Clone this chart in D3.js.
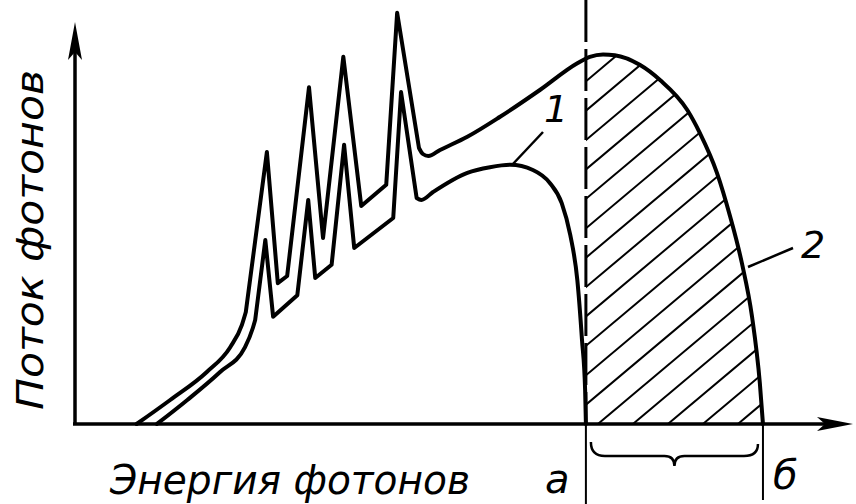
<!DOCTYPE html>
<html>
<head>
<meta charset="utf-8">
<script src="https://cdn.jsdelivr.net/npm/d3@7"></script>
<style>
  body { margin: 0; background: #fff; }
  text { font-family: "DejaVu Sans", sans-serif; font-style: italic; fill: #000; }
</style>
</head>
<body>
<div id="chart"></div>
<script>
// curve 2 (upper): smooth rise, four sharp lines, smooth tail
var curve2Rise  = [[7.9,0],[12.2,6],[16.9,13],[19.9,19.2],[21.4,24.8],[21.9,28]];
var curve2Peaks = [[21.9,28],[24.6,68],[26.0,35.2],[27.2,37],[30.0,84.2],[31.8,46.5],[34.4,91.8],[36.7,54.5],[39.9,59.8],[41.3,102.8],[44.1,69]];
var curve2Tail  = [[44.1,69],[44.6,67.5],[45.3,67],[46.8,68.5],[50.3,71.8],[54.5,76.8],[59.6,83.5],[64.4,90.2],[66.0,91.8],[67.7,92.4],[69.2,92.2],[72.4,89.8],[75.0,86],[78.5,78.5],[80.1,72.8],[82.3,62.8],[84.0,51.8],[85.5,40.2],[86.8,26.8],[87.8,10.2],[88.2,0]];

// curve 1 (lower)
var curve1Rise  = [[10.5,0],[14.4,6],[18.6,13],[21.8,19.2],[22.8,24],[23.1,26]];
var curve1Peaks = [[23.1,26],[24.4,46],[25.4,26.8],[28.5,32.2],[29.9,56],[30.8,36.5],[32.9,39.8],[34.5,69.8],[35.8,44],[40.8,51.5],[41.8,83],[43.8,56.5]];
var curve1Tail  = [[43.8,56.5],[44.4,56],[45.9,58],[50.3,62.8],[53.2,64.2],[55.8,64.8],[58.7,63.5],[60.9,60.2],[62.4,55.2],[63.5,47.2],[64.4,36],[65.0,21],[65.4,8.5],[65.5,0]];

var boundA = 65.5, boundB = 88.2;

var axisLabelX = "Энергия фотонов";
var axisLabelY = "Поток фотонов";
var boundLabels = ["а", "б"];
var curveLabels = ["1", "2"];

var width = 856, height = 504;

var svg = d3.select('#chart')
  .append('svg')
    .attr('width', width)
    .attr('height', height);

var x = d3.scaleLinear().domain([0, 100]).range([75, 855]);
var y = d3.scaleLinear().domain([0, 100]).range([424, 24]);

var smooth = d3.line().x(d => x(d[0])).y(d => y(d[1])).curve(d3.curveMonotoneX);
var sharp = d3.line().x(d => x(d[0])).y(d => y(d[1]));

function joined(rise, peaks, tail) {
  return smooth(rise) + sharp(peaks).replace(/^M/, 'L') + smooth(tail).replace(/^M/, 'L');
}

// hatched region under curve 2 to the right of a
var defs = svg.append('defs');
defs.append('clipPath').attr('id', 'clipArea')
  .append('path')
  .attr('d', d3.area().x(d => x(d[0])).y0(y(0)).y1(d => y(d[1])).curve(d3.curveMonotoneX)(curve2Tail));
defs.append('clipPath').attr('id', 'clipRight')
  .append('rect')
  .attr('x', x(boundA)).attr('y', 0)
  .attr('width', x(boundB) - x(boundA) + 10).attr('height', y(0));

var hatch = svg.append('g').attr('clip-path', 'url(#clipRight)')
  .append('g').attr('clip-path', 'url(#clipArea)');
var step = 35, slope = 0.84, x0 = x(boundA) + 12;
hatch.selectAll('line')
  .data(d3.range(-12, 6))
  .enter()
  .append('line')
  .attr('x1', k => x0 + k * step)
  .attr('y1', y(0))
  .attr('x2', k => x0 + k * step + 500)
  .attr('y2', y(0) - 500 * slope)
  .attr('stroke', '#000')
  .attr('stroke-width', 2);

// curves
svg.append('path')
  .attr('d', joined(curve2Rise, curve2Peaks, curve2Tail))
  .attr('fill', 'none').attr('stroke', '#000').attr('stroke-width', 4)
  .attr('stroke-linejoin', 'round').attr('stroke-linecap', 'round');
svg.append('path')
  .attr('d', joined(curve1Rise, curve1Peaks, curve1Tail))
  .attr('fill', 'none').attr('stroke', '#000').attr('stroke-width', 4)
  .attr('stroke-linejoin', 'round').attr('stroke-linecap', 'round');

// axes
svg.append('line')
  .attr('x1', x(0)).attr('y1', y(0)).attr('x2', x(0)).attr('y2', 40)
  .attr('stroke', '#000').attr('stroke-width', 3.5);
svg.append('line')
  .attr('x1', x(0) - 2).attr('y1', y(0)).attr('x2', 830).attr('y2', y(0))
  .attr('stroke', '#000').attr('stroke-width', 3.5);
svg.append('path')
  .attr('d', 'M' + x(0) + ',22 L' + (x(0) + 7) + ',60 L' + x(0) + ',52 L' + (x(0) - 7) + ',60 Z')
  .attr('fill', '#000');
svg.append('path')
  .attr('d', 'M853,' + y(0) + ' L817,' + (y(0) - 7) + ' L825,' + y(0) + ' L817,' + (y(0) + 7) + ' Z')
  .attr('fill', '#000');

// boundaries a and б
svg.append('line')
  .attr('x1', x(boundA)).attr('y1', 0).attr('x2', x(boundA)).attr('y2', y(0))
  .attr('stroke', '#000').attr('stroke-width', 3).attr('stroke-dasharray', '42,7');
svg.append('line')
  .attr('x1', x(boundA)).attr('y1', y(0)).attr('x2', x(boundA)).attr('y2', height)
  .attr('stroke', '#000').attr('stroke-width', 2);
svg.append('line')
  .attr('x1', x(boundB)).attr('y1', y(0)).attr('x2', x(boundB)).attr('y2', 500)
  .attr('stroke', '#000').attr('stroke-width', 2);

// brace
var bl = x(boundA) + 5, br = x(boundB) - 5, bm = (bl + br) / 2;
svg.append('path')
  .attr('d', 'M' + bl + ',442 Q' + bl + ',456 ' + (bl + 14) + ',456 L' + (bm - 10) + ',456 Q' + bm + ',456 ' + bm + ',466'
    + ' Q' + bm + ',456 ' + (bm + 10) + ',456 L' + (br - 14) + ',456 Q' + br + ',456 ' + br + ',444')
  .attr('fill', 'none').attr('stroke', '#000').attr('stroke-width', 2.5);

// leaders and curve numbers
svg.append('line').attr('x1', 512).attr('y1', 165).attr('x2', 543).attr('y2', 132)
  .attr('stroke', '#000').attr('stroke-width', 2.5);
svg.append('line').attr('x1', 748).attr('y1', 267).attr('x2', 793).attr('y2', 248)
  .attr('stroke', '#000').attr('stroke-width', 2.5);
svg.append('text').attr('x', 544).attr('y', 122).style('font-size', '38px').text(curveLabels[0]);
svg.append('text').attr('x', 801).attr('y', 258).style('font-size', '38px').text(curveLabels[1]);

// axis titles
svg.append('text')
  .attr('x', 110).attr('y', 494)
  .attr('textLength', 360).attr('lengthAdjust', 'spacingAndGlyphs')
  .style('font-size', '40px')
  .text(axisLabelX);
svg.append('text')
  .attr('transform', 'translate(43,240) rotate(-90)')
  .attr('text-anchor', 'middle')
  .attr('textLength', 340).attr('lengthAdjust', 'spacingAndGlyphs')
  .style('font-size', '38px')
  .text(axisLabelY);
svg.append('text').attr('x', 545).attr('y', 493).style('font-size', '40px').text(boundLabels[0]);
svg.append('text').attr('x', 773).attr('y', 489).style('font-size', '40px').text(boundLabels[1]);
</script>
</body>
</html>
